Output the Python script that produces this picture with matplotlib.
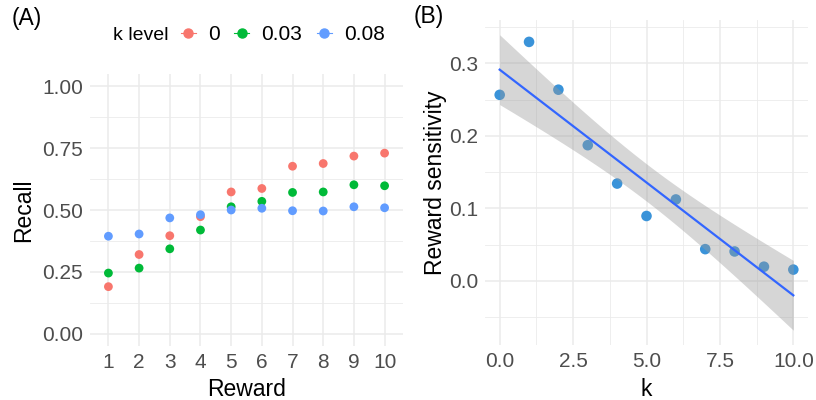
import numpy as np
import matplotlib.pyplot as plt
from matplotlib.lines import Line2D
from matplotlib.ticker import MultipleLocator

plt.rcParams['font.family'] = ['Liberation Sans', 'DejaVu Sans']

# recall by reward, one series per k level
reward = np.arange(1, 11)
k_levels = ['0', '0.03', '0.08']
recall_k0 = [0.190, 0.320, 0.396, 0.473, 0.573, 0.587, 0.677, 0.688, 0.718, 0.730]
recall_k003 = [0.245, 0.265, 0.343, 0.419, 0.513, 0.535, 0.571, 0.573, 0.602, 0.598]
recall_k008 = [0.394, 0.403, 0.468, 0.481, 0.500, 0.507, 0.497, 0.496, 0.513, 0.509]
level_cols = ['#F8766D', '#00BA38', '#619CFF']

# reward sensitivity against k
k = np.arange(0, 11)
sens = [0.2566, 0.3296, 0.2637, 0.1872, 0.1343, 0.0896, 0.1124, 0.0439, 0.0407, 0.0197, 0.0157]

grid_col = '#EBEBEB'
tick_col = '#4D4D4D'

fig = plt.figure(figsize=(8.16, 4.0), dpi=100)
axA = fig.add_axes([90/816, 1-346/400, 313/816, 272/400])
axB = fig.add_axes([485/816, 1-345/400, 323/816, 325/400])

def style(ax):
    for s in ax.spines.values():
        s.set_visible(False)
    ax.tick_params(which='both', length=0, labelsize=15, colors=tick_col, pad=5)
    ax.grid(which='major', color=grid_col, lw=1.1)
    ax.grid(which='minor', color=grid_col, lw=0.6)
    ax.set_axisbelow(True)

# ---- panel A
for ys, c in zip([recall_k0, recall_k003, recall_k008], level_cols):
    axA.scatter(reward, ys, s=40, color=c, edgecolors='none', zorder=3)
axA.set_xlim(0.4, 10.6)
axA.set_ylim(-0.05, 1.05)
axA.set_xticks(reward)
axA.set_yticks([0, 0.25, 0.5, 0.75, 1.0])
axA.set_yticklabels(['0.00', '0.25', '0.50', '0.75', '1.00'])
axA.yaxis.set_minor_locator(MultipleLocator(0.125))
style(axA)
axA.grid(which='minor', axis='x', visible=False)
axA.set_xlabel('Reward', fontsize=16.5, labelpad=4)
axA.set_ylabel('Recall', fontsize=16.5, labelpad=5)

# ---- panel B: points, then lm fit with 95% band
axB.scatter(k, sens, s=58, color='#3A93D9', edgecolors='none', zorder=2)
x = k.astype(float)
y = np.array(sens)
n = len(x)
slope, icpt = np.polyfit(x, y, 1)
resid = y - (icpt + slope*x)
se = np.sqrt(np.sum(resid**2)/(n-2))
xs = np.linspace(0, 10, 80)
fit = icpt + slope*xs
half = 2.262*se*np.sqrt(1/n + (xs-x.mean())**2/np.sum((x-x.mean())**2))
axB.fill_between(xs, fit-half, fit+half, color='#999999', alpha=0.4, lw=0, zorder=3)
axB.plot(xs, fit, color='#3366FF', lw=1.6, zorder=4)
lo = min((fit-half).min(), y.min())
hi = max((fit+half).max(), y.max())
pad = (hi-lo)*0.05
axB.set_ylim(lo-pad, hi+pad)
axB.set_xlim(-0.5, 10.5)
axB.set_xticks([0, 2.5, 5, 7.5, 10])
axB.set_xticklabels(['0.0', '2.5', '5.0', '7.5', '10.0'])
axB.xaxis.set_minor_locator(MultipleLocator(1.25))
axB.set_yticks([0, 0.1, 0.2, 0.3])
axB.set_yticklabels(['0.0', '0.1', '0.2', '0.3'])
axB.yaxis.set_minor_locator(MultipleLocator(0.05))
style(axB)
axB.set_xlabel('k', fontsize=16.5, labelpad=5)
axB.set_ylabel('Reward sensitivity', fontsize=16.5, labelpad=1)

# legend across the top of panel A
fig.text(113/816, 1-35/400, 'k level', fontsize=14, va='center', ha='left')
handles = [Line2D([], [], color=c, marker='o', ms=6.5, lw=0.8) for c in level_cols]
fig.legend(handles, k_levels, ncol=3, frameon=False, fontsize=15,
           loc='center left', bbox_to_anchor=(181/816, 1-35/400),
           handlelength=0.7, handletextpad=0.6, columnspacing=0.7,
           borderpad=0, borderaxespad=0)

fig.text(12/816, 1-19/400, '(A)', fontsize=16.5, va='center', ha='left')
fig.text(414/816, 1-16/400, '(B)', fontsize=16.5, va='center', ha='left')

fig.savefig('out.png', dpi=100)
